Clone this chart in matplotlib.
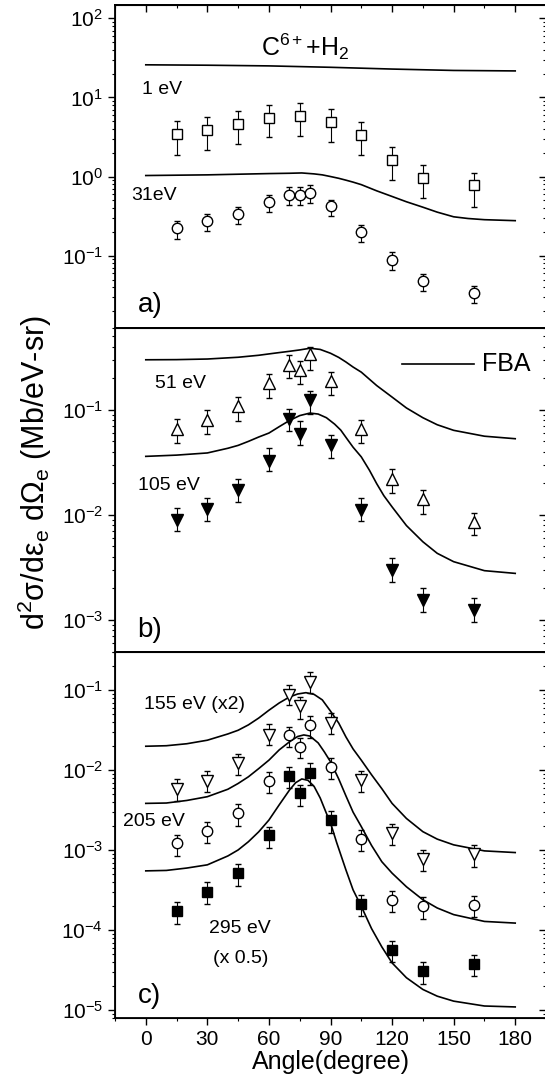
import matplotlib
matplotlib.use('Agg')
import matplotlib.pyplot as plt
from matplotlib.ticker import LogLocator, MultipleLocator, NullFormatter, LogFormatterMathtext

plt.rcParams['font.family'] = ['Liberation Sans', 'DejaVu Sans']
plt.rcParams['mathtext.fontset'] = 'custom'
plt.rcParams['mathtext.rm'] = 'Liberation Sans'
plt.rcParams['mathtext.it'] = 'Liberation Sans:italic'
plt.rcParams['mathtext.bf'] = 'Liberation Sans:bold'

# panel a) C6+ + H2, 1 eV and 31 eV
ang_a1 = [15, 30, 45, 60, 75, 90, 105, 120, 135, 160]
e1_y = [3.47, 3.9, 4.6, 5.57, 5.85, 4.87, 3.37, 1.63, 0.957, 0.773]
e1_hi = [4.97, 5.7, 6.8, 8.05, 8.45, 7.1, 4.82, 2.36, 1.40, 1.11]
e1_lo = [1.88, 2.18, 2.57, 3.12, 3.21, 2.7, 1.87, 0.893, 0.535, 0.412]

ang = [15, 30, 45, 60, 70, 75, 80, 90, 105, 120, 135, 160]
e31_y = [0.221, 0.274, 0.336, 0.476, 0.589, 0.589, 0.618, 0.42, 0.199, 0.0891, 0.0475, 0.0338]
e31_hi = [0.277, 0.336, 0.412, 0.589, 0.736, 0.736, 0.773, 0.51, 0.244, 0.110, 0.0593, 0.0419]
e31_lo = [0.164, 0.203, 0.251, 0.36, 0.44, 0.44, 0.462, 0.314, 0.149, 0.0667, 0.0362, 0.0253]

fba_ang_a1 = [0, 30, 60, 90, 120, 150, 180]
fba_a1 = [25.8, 25.5, 25.0, 24.0, 22.8, 21.9, 21.6]
fba_ang_a31 = [0, 30, 45, 60, 70, 76, 82, 86, 90, 94, 97.5, 101, 105, 112.5, 120, 127, 135, 142, 150,
               157, 165, 180]
fba_a31 = [1.03, 1.05, 1.07, 1.09, 1.10, 1.11, 1.08, 1.05, 1.0, 0.95, 0.9, 0.85, 0.79, 0.66, 0.56, 0.48,
           0.41, 0.355, 0.31, 0.295, 0.285, 0.277]

# panel b) 51 eV and 105 eV
e51_y = [0.066, 0.0804, 0.1076, 0.179, 0.269, 0.24, 0.34, 0.186, 0.066, 0.0221, 0.0141, 0.0086]
e51_hi = [0.0815, 0.1, 0.132, 0.22, 0.333, 0.294, 0.394, 0.228, 0.08, 0.0271, 0.0172, 0.0105]
e51_lo = [0.0487, 0.0591, 0.079, 0.13, 0.2, 0.177, 0.24, 0.137, 0.0487, 0.0163, 0.0101, 0.0064]
e105_y = [0.0089, 0.0113, 0.0171, 0.0323, 0.082, 0.059, 0.123, 0.0458, 0.0111, 0.003, 0.00155, 0.00124]
e105_hi = [0.0116, 0.0145, 0.0221, 0.0433, 0.102, 0.0775, 0.15, 0.057, 0.0143, 0.00385, 0.002, 0.00161]
e105_lo = [0.00705, 0.0087, 0.0133, 0.026, 0.0623, 0.0466, 0.0916, 0.0347, 0.0087, 0.00231, 0.0012, 0.00096]

fba_ang_b51 = [0, 15, 30, 45, 55, 60, 65, 70, 75, 80, 85, 90, 94, 97.5, 101, 105, 112.5, 120, 127, 135,
               142, 150, 165, 180]
fba_b51 = [0.299, 0.300, 0.304, 0.316, 0.33, 0.34, 0.35, 0.36, 0.371, 0.385, 0.375, 0.345, 0.315, 0.285,
           0.255, 0.228, 0.17, 0.132, 0.104, 0.084, 0.072, 0.0637, 0.056, 0.053]
fba_ang_b105 = [0, 15, 30, 40, 45, 50, 55, 60, 65, 70, 75, 80, 84, 88, 92, 95, 98, 101, 105, 109, 112.5,
                116, 120, 127, 135, 142, 150, 165, 180]
fba_b105 = [0.036, 0.037, 0.0388, 0.043, 0.0458, 0.050, 0.055, 0.06, 0.069, 0.079, 0.088, 0.093, 0.091,
            0.084, 0.073, 0.064, 0.053, 0.044, 0.0356, 0.0265, 0.0198, 0.0152, 0.0119, 0.0079, 0.00554,
            0.0043, 0.00358, 0.00294, 0.00277]

# panel c) 155 eV (x2), 205 eV, 295 eV (x0.5)
e155_y = [0.00577, 0.00741, 0.0122, 0.0275, 0.0883, 0.0632, 0.127, 0.0392, 0.00755, 0.00163, 0.000775, 0.000901]
e155_hi = [0.00769, 0.00986, 0.0159, 0.0377, 0.118, 0.0825, 0.169, 0.0521, 0.00986, 0.00213, 0.00101, 0.00115]
e155_lo = [0.00417, 0.0054, 0.0087, 0.0206, 0.065, 0.0444, 0.0926, 0.0282, 0.0054, 0.00117, 0.000553, 0.000627]
e205_y = [0.00122, 0.00176, 0.00295, 0.00733, 0.0275, 0.0196, 0.0366, 0.0109, 0.00137, 0.000241, 0.000199, 0.000207]
e205_hi = [0.00156, 0.00224, 0.00375, 0.0096, 0.0349, 0.0257, 0.0474, 0.0141, 0.0018, 0.000312, 0.000258, 0.000265]
e205_lo = [0.00086, 0.00122, 0.00203, 0.00515, 0.0196, 0.0141, 0.0257, 0.00769, 0.000983, 0.000167, 0.000138, 0.000145]
e295_y = [0.000172, 0.000305, 0.000518, 0.00156, 0.00848, 0.00515, 0.00931, 0.00239, 0.000215, 5.73e-5, 3.08e-5, 3.84e-5]
e295_hi = [0.000223, 0.000396, 0.00067, 0.00198, 0.0109, 0.00653, 0.0122, 0.00307, 0.000278, 7.41e-5, 3.98e-5, 4.97e-5]
e295_lo = [0.000121, 0.000215, 0.00036, 0.00106, 0.00594, 0.00358, 0.00653, 0.00166, 0.000149, 3.98e-5, 2.16e-5, 2.67e-5]

fba_ang_c155 = [0, 10, 20, 30, 40, 45, 50, 55, 60, 65, 70, 74, 78, 82, 86, 90, 94, 97.5, 101, 105, 110,
                115, 120, 127, 135, 142, 150, 165, 180]
fba_c155 = [0.020, 0.0203, 0.0215, 0.0238, 0.0285, 0.0317, 0.037, 0.045, 0.0564, 0.0695, 0.0826, 0.090,
            0.0935, 0.089, 0.076, 0.055, 0.039, 0.0262, 0.0185, 0.0134, 0.0088, 0.0059, 0.00386, 0.0025,
            0.00171, 0.00138, 0.00117, 0.000983, 0.000937]
fba_ang_c205 = [0, 10, 20, 30, 40, 45, 50, 55, 60, 65, 70, 74, 77, 80, 84, 87, 90, 94, 97.5, 101, 105, 110,
                115, 120, 127, 135, 142, 150, 165, 180]
fba_c205 = [0.00386, 0.0039, 0.0042, 0.00468, 0.0058, 0.00685, 0.0083, 0.0105, 0.0134, 0.018, 0.0227,
            0.0265, 0.0277, 0.0268, 0.022, 0.017, 0.0128, 0.0078, 0.0048, 0.0030, 0.00198, 0.00115, 0.00072,
            0.000518, 0.00035, 0.000241, 0.00019, 0.000157, 0.000129, 0.000123]
fba_ang_c295 = [0, 10, 20, 30, 40, 45, 50, 55, 60, 65, 70, 73, 76, 79, 82, 85, 88, 90, 93, 97.5, 101, 105,
                110, 115, 120, 127, 135, 142, 150, 165, 180]
fba_c295 = [0.000553, 0.00056, 0.0006, 0.000658, 0.00085, 0.00101, 0.00128, 0.0017, 0.00239, 0.0037,
            0.00566, 0.0070, 0.0078, 0.0075, 0.0063, 0.0045, 0.0029, 0.0022, 0.00125, 0.00057, 0.00032,
            0.000199, 0.000105, 6.2e-5, 3.91e-5, 2.55e-5, 1.82e-5, 1.5e-5, 1.3e-5, 1.13e-5, 1.1e-5]

W, H = 545, 1084
fig = plt.figure(figsize=(W / 100, H / 100), dpi=100)


def make_ax(top_px, bot_px, ylim):
    ax = fig.add_axes([115 / W, 1 - bot_px / H, (546 - 115) / W, (bot_px - top_px) / H])
    ax.set_yscale('log')
    ax.set_xlim(-15, 195)
    ax.set_ylim(*ylim)
    ax.xaxis.set_major_locator(MultipleLocator(30))
    ax.xaxis.set_minor_locator(MultipleLocator(15))
    ax.yaxis.set_major_locator(LogLocator(base=10, numticks=20))
    ax.yaxis.set_minor_locator(LogLocator(base=10, subs=range(2, 10), numticks=20))
    ax.yaxis.set_major_formatter(LogFormatterMathtext())
    ax.yaxis.set_minor_formatter(NullFormatter())
    ax.tick_params(axis='both', which='major', direction='out', length=5, width=1, labelsize=15)
    ax.tick_params(axis='both', which='minor', direction='out', length=2.5, width=0.8)
    ax.tick_params(axis='y', which='both', right=False)
    ax.tick_params(axis='x', which='both', top=False)
    for s in ax.spines.values():
        s.set_linewidth(1.3)
    tw = ax.twinx()
    tw.set_yscale('log')
    tw.set_ylim(*ylim)
    tw.yaxis.set_major_locator(LogLocator(base=10, numticks=20))
    tw.yaxis.set_minor_locator(LogLocator(base=10, subs=range(2, 10), numticks=20))
    tw.tick_params(axis='y', which='major', direction='in', length=5, width=1, labelright=False)
    tw.tick_params(axis='y', which='minor', direction='in', length=2.5, width=0.8)
    return ax


def points(ax, x, y, lo, hi, marker, fill, ms):
    yerr = [[v - l for v, l in zip(y, lo)], [h - v for v, h in zip(y, hi)]]
    ax.errorbar(x, y, yerr=yerr, fmt=marker, ms=ms, mfc=fill, mec='black', mew=1.0,
                ecolor='black', elinewidth=0.8, capsize=2.5, capthick=0.8, zorder=3)


# a)
axa = make_ax(5, 328, (0.0122, 147))
axa.plot(fba_ang_a1, fba_a1, color='black', lw=1.2)
axa.plot(fba_ang_a31, fba_a31, color='black', lw=1.2)
points(axa, ang_a1, e1_y, e1_lo, e1_hi, 's', 'white', 7)
points(axa, ang, e31_y, e31_lo, e31_hi, 'o', 'white', 7.5)
axa.set_xticklabels([])
sec = axa.secondary_xaxis('top')
sec.xaxis.set_major_locator(MultipleLocator(30))
sec.xaxis.set_minor_locator(MultipleLocator(15))
sec.tick_params(axis='x', which='major', direction='in', length=5, width=1, labeltop=False)
sec.tick_params(axis='x', which='minor', direction='in', length=2.5, width=0.8)
sec.spines['top'].set_linewidth(1.3)
axa.text(77.5, 44, r'C$^{6+}$+H$_2$', fontsize=18, ha='center', va='center')
axa.text(-2, 12.4, '1 eV', fontsize=14, ha='left', va='center')
axa.text(-7, 0.57, '31eV', fontsize=14, ha='left', va='center')
axa.text(-4, 0.024, 'a)', fontsize=20, ha='left', va='center')

# b)
axb = make_ax(328, 651.5, (5e-4, 0.6))
axb.plot(fba_ang_b51, fba_b51, color='black', lw=1.2)
axb.plot(fba_ang_b105, fba_b105, color='black', lw=1.2)
points(axb, ang, e51_y, e51_lo, e51_hi, '^', 'white', 8)
points(axb, ang, e105_y, e105_lo, e105_hi, 'v', 'black', 8)
axb.set_xticklabels([])
axb.plot([125, 160], [0.274, 0.274], color='black', lw=1.2)
axb.text(164, 0.274, 'FBA', fontsize=18, ha='left', va='center')
axb.text(4.6, 0.177, '51 eV', fontsize=14, ha='left', va='center')
axb.text(-3.9, 0.019, '105 eV', fontsize=14, ha='left', va='center')
axb.text(-4, 8e-4, 'b)', fontsize=20, ha='left', va='center')

# c)
axc = make_ax(651.5, 1018, (8e-6, 0.306))
axc.plot(fba_ang_c155, fba_c155, color='black', lw=1.2)
axc.plot(fba_ang_c205, fba_c205, color='black', lw=1.2)
axc.plot(fba_ang_c295, fba_c295, color='black', lw=1.2)
points(axc, ang, e155_y, e155_lo, e155_hi, 'v', 'white', 8)
points(axc, ang, e205_y, e205_lo, e205_hi, 'o', 'white', 7.5)
points(axc, ang, e295_y, e295_lo, e295_hi, 's', 'black', 7)
axc.set_xlabel('Angle(degree)', fontsize=18, labelpad=1)
axc.text(-1, 0.0662, '155 eV (x2)', fontsize=14, ha='left', va='center')
axc.text(-11, 0.00228, '205 eV', fontsize=14, ha='left', va='center')
axc.text(46, 0.000104, '295 eV', fontsize=14, ha='center', va='center')
axc.text(46, 4.5e-5, '(x 0.5)', fontsize=14, ha='center', va='center')
axc.text(-4, 1.5e-5, 'c)', fontsize=20, ha='left', va='center')

fig.text(0.064, 0.5637, r'd$^2$$\mathregular{\sigma}$/d$\mathregular{\varepsilon_e}$ d$\mathregular{\Omega_e}$ (Mb/eV-sr)',
         rotation=90, fontsize=22, ha='center', va='center')

fig.savefig('out.png', dpi=100)
